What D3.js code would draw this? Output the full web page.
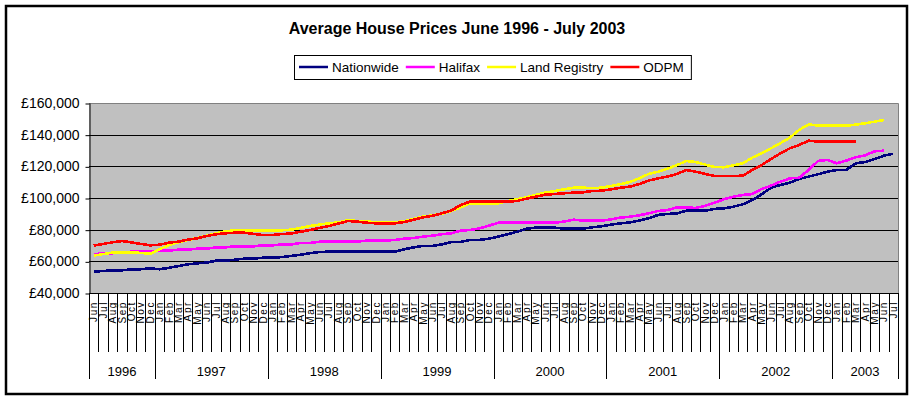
<!DOCTYPE html>
<html>
<head>
<meta charset="utf-8">
<script src="https://cdn.jsdelivr.net/npm/d3@7/dist/d3.min.js"></script>
<style>
	body { margin: 0; background: #fff; }
	svg { display: block; font-family: Arial, "Liberation Sans", sans-serif; }
</style>
</head>
<body>
<svg id="chart" width="914" height="399"></svg>
<script>
var monthNames = ["Jan", "Feb", "Mar", "Apr", "May", "Jun", "Jul", "Aug", "Sep", "Oct", "Nov", "Dec"];
var years = ["1996", "1997", "1998", "1999", "2000", "2001", "2002", "2003"];
var monthsInYear = [7, 12, 12, 12, 12, 12, 12, 7];
var firstMonth = 5; // June 1996

var yTicks = [40000, 60000, 80000, 100000, 120000, 140000, 160000];

var seriesNames = ["Nationwide", "Halifax", "Land Registry", "ODPM"];
var seriesColors = ["#000080", "#ff00ff", "#ffff00", "#ff0000"];

var nationwide = [
	53500, 53900, 54300, 54300, 55000, 55000, 55600, 55000, 55900, 57000,
	58100, 58700, 59200, 60400, 60400, 61000, 61700, 61700, 62300, 62300,
	62700, 63400, 64200, 65100, 65900, 66100, 66100, 66100, 66100, 66100,
	66100, 66100, 66100, 67600, 68800, 69700, 69700, 70700, 72200, 72200,
	73500, 73500, 74300, 75600, 77100, 78700, 80600, 81300, 81300, 81300,
	80600, 80600, 80600, 81500, 82100, 83200, 84000, 84600, 85700, 87200,
	89300, 89900, 90300, 92000, 92000, 92000, 93100, 93500, 94500, 96000,
	98700, 102300, 106500, 108200, 109700, 112000, 113500, 115000, 116600, 117700,
	117700, 121900, 122700, 124600, 126700, 128000];

var halifax = [
	64400, 65100, 65100, 65500, 66100, 66100, 66500, 66700, 66700, 67400,
	67400, 68000, 68000, 68800, 68800, 69500, 69500, 69500, 70100, 70100,
	70700, 70700, 71600, 71600, 72400, 72400, 72400, 72400, 72400, 73100,
	73100, 73100, 73500, 74300, 74700, 75600, 76200, 77100, 77700, 79400,
	79800, 80800, 82500, 84400, 84400, 84400, 84400, 84400, 84400, 84400,
	85100, 86300, 85700, 85700, 85700, 86500, 87600, 88200, 89100, 90300,
	91800, 92400, 94100, 94100, 93700, 95000, 97100, 99200, 100800, 101900,
	102500, 105700, 107800, 110300, 112400, 112800, 117700, 123400, 124000, 121900,
	123600, 125700, 126900, 129500, 129900];

var landRegistry = [
	63600, 64600, 65500, 65700, 65700, 65300, 64800, 67600, 70300, 72000,
	73500, 74700, 76200, 77700, 79000, 79600, 79600, 79400, 79400, 79400,
	79600, 80000, 81100, 82300, 83200, 84000, 84600, 85900, 85500, 85100,
	84800, 84600, 84600, 85300, 86700, 88200, 89000, 90100, 91800, 94100,
	96600, 96600, 96600, 96600, 98100, 99200, 100400, 101900, 103400, 104400,
	105500, 106500, 106500, 106300, 106500, 107600, 108800, 110100, 112400, 115200,
	116600, 118500, 120800, 123400, 122700, 121100, 119600, 119400, 120600, 121900,
	125500, 128200, 131400, 134600, 138100, 143000, 146500, 145700, 145700, 145700,
	145700, 146300, 147200, 148200, 149300];

var odpm = [
	69900, 71000, 72000, 72800, 72000, 71000, 70100, 70500, 71800, 72400,
	73700, 74500, 76000, 77100, 77700, 78100, 78100, 77300, 76600, 76600,
	77300, 77500, 78700, 79800, 81100, 82300, 83800, 85500, 85100, 84400,
	84000, 84000, 84000, 84800, 86300, 87800, 88800, 90300, 92000, 95600,
	97700, 97700, 97700, 97700, 97700, 98100, 99600, 100800, 102100, 102500,
	103000, 103400, 103600, 104400, 104600, 105500, 106500, 107200, 108800, 111000,
	112400, 113500, 115200, 117700, 116600, 115200, 113900, 113900, 113900, 114100,
	117700, 120800, 124600, 128200, 131400, 133500, 136200, 135600, 135600, 135600,
	135600, 135600];

var allSeries = [nationwide, halifax, landRegistry, odpm];

// Month labels, one per category
var categories = [];
var m = firstMonth;
for (var k = 0; k < monthsInYear.length; k++)
{
	for (var j = 0; j < monthsInYear[k]; j++)
	{
		categories.push(monthNames[m % 12]);
		m++;
	}
}

var plotLeft = 89, plotRight = 898, plotTop = 103, plotBottom = 293;

var svg = d3.select("#chart");

var x = d3.scaleBand()
	.domain(d3.range(categories.length))
	.range([plotLeft, plotRight]);

var y = d3.scaleLinear()
	.domain([40000, 160000])
	.range([plotBottom, plotTop]);

var crisp = function(v) { return Math.round(v) + 0.5; };

// Chart area border
svg.append("rect")
	.attr("x", 6)
	.attr("y", 6)
	.attr("width", 901)
	.attr("height", 388)
	.attr("fill", "#fff")
	.attr("stroke", "#000")
	.attr("stroke-width", 2.5);

// Title
svg.append("text")
	.attr("x", 457)
	.attr("y", 34)
	.attr("text-anchor", "middle")
	.style("font-size", "16px")
	.style("font-weight", "bold")
	.text("Average House Prices June 1996 - July 2003");

// Plot area
svg.append("rect")
	.attr("x", plotLeft)
	.attr("y", plotTop)
	.attr("width", plotRight - plotLeft)
	.attr("height", plotBottom - plotTop)
	.attr("fill", "#c0c0c0");

svg.append("g")
	.selectAll("line")
	.data(yTicks.slice(1, -1))
	.enter()
	.append("line")
	.attr("x1", plotLeft)
	.attr("x2", plotRight)
	.attr("y1", function(d) { return crisp(y(d)); })
	.attr("y2", function(d) { return crisp(y(d)); })
	.attr("stroke", "#000");

svg.append("path")
	.attr("d", "M" + plotLeft + "," + crisp(plotTop) + "H" + crisp(plotRight) + "V" + plotBottom)
	.attr("fill", "none")
	.attr("stroke", "#808080");

// Y axis
var yAxis = svg.append("g")
	.attr("transform", "translate(" + (plotLeft + 0.5) + ",0)")
	.call(d3.axisLeft(y)
		.tickValues(yTicks)
		.tickSize(4)
		.tickSizeOuter(0)
		.tickPadding(6)
		.tickFormat(function(d) { return "\u00a3" + d3.format(",")(d); }));

yAxis.selectAll("line, path").attr("stroke", "#000");
yAxis.selectAll(".tick line").attr("transform", "translate(0,0.5)");
yAxis.selectAll("text")
	.attr("fill", "#000")
	.style("font-size", "14px")
	.style("font-family", "Arial, 'Liberation Sans', sans-serif");

// X axis line and category dividers
svg.append("line")
	.attr("x1", plotLeft)
	.attr("x2", plotRight + 1)
	.attr("y1", crisp(plotBottom))
	.attr("y2", crisp(plotBottom))
	.attr("stroke", "#000");

var yearStarts = [0];
for (var k = 0; k < monthsInYear.length; k++)
{
	yearStarts.push(yearStarts[k] + monthsInYear[k]);
}

var bw = x.bandwidth();
var edgeX = function(i) { return crisp(plotLeft + i * bw); };

svg.append("g")
	.selectAll("line")
	.data(d3.range(categories.length + 1))
	.enter()
	.append("line")
	.attr("x1", edgeX)
	.attr("x2", edgeX)
	.attr("y1", plotBottom)
	.attr("y2", function(i) { return yearStarts.indexOf(i) >= 0 ? 379 : 352; })
	.attr("stroke", "#000");

svg.append("g")
	.selectAll("text")
	.data(categories)
	.enter()
	.append("text")
	.attr("transform", function(d, i) { return "translate(" + (x(i) + bw / 2) + ",301) rotate(-90)"; })
	.attr("text-anchor", "end")
	.attr("dy", "0.36em")
	.style("font-size", "10px")
	.style("letter-spacing", "1.6px")
	.text(function(d) { return d; });

svg.append("g")
	.selectAll("text")
	.data(years)
	.enter()
	.append("text")
	.attr("x", function(d, k) { return plotLeft + (yearStarts[k] + yearStarts[k + 1]) / 2 * bw; })
	.attr("y", 376)
	.attr("text-anchor", "middle")
	.style("font-size", "13px")
	.text(function(d) { return d; });

// Series lines
var line = d3.line()
	.x(function(d, i) { return x(i) + bw / 2; })
	.y(function(d) { return y(d); });

svg.append("g")
	.selectAll("path")
	.data(allSeries)
	.enter()
	.append("path")
	.attr("d", line)
	.attr("fill", "none")
	.attr("stroke", function(d, i) { return seriesColors[i]; })
	.attr("stroke-width", 2.6)
	.attr("stroke-linejoin", "round")
	.attr("shape-rendering", "crispEdges");

// Legend
var legend = svg.append("g");
var legendBox = legend.append("rect")
	.attr("fill", "#fff")
	.attr("stroke", "#000");

var lx = 299;
seriesNames.forEach(function(name, i)
{
	legend.append("line")
		.attr("x1", lx)
		.attr("x2", lx + 29)
		.attr("y1", 67)
		.attr("y2", 67)
		.attr("stroke", seriesColors[i])
		.attr("stroke-width", 2.5);

	var t = legend.append("text")
		.attr("x", lx + 33)
		.attr("y", 67)
		.attr("dy", "0.35em")
		.style("font-size", "13.5px")
		.text(name);

	lx += 33 + t.node().getComputedTextLength() + 7;
});

legendBox
	.attr("x", 294.5)
	.attr("y", 55.5)
	.attr("width", lx - 294)
	.attr("height", 24);
</script>
</body>
</html>
